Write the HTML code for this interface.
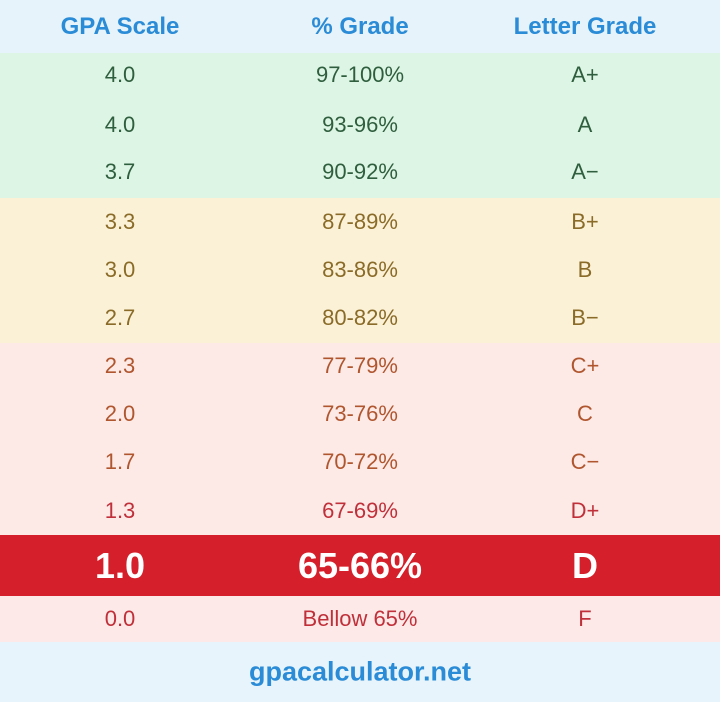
<!DOCTYPE html>
<html><head><meta charset="utf-8"><style>
body{margin:0;width:720px;height:702px;overflow:hidden;font-family:"Liberation Sans",sans-serif;background:#eaf5fc}
.r{position:absolute;left:0;width:720px;}
.c{position:absolute;transform:translate(-50%,-50%);white-space:nowrap}
</style></head><body>
<div class="r" style="top:0;height:53px;background:#e6f3fb"></div>
<div class="r" style="top:53px;height:145px;background:#ddf5e4"></div>
<div class="r" style="top:198px;height:145px;background:#fbf1d6"></div>
<div class="r" style="top:343px;height:192px;background:#fdeae6"></div>
<div class="r" style="top:535px;height:61px;background:#d51f2a"></div>
<div class="r" style="top:596px;height:46px;background:#fdeae8"></div>
<div class="r" style="top:642px;height:60px;background:#e8f4fb"></div>
<div id="t"></div>
<script>
const rows=[
[27,"GPA Scale","% Grade","Letter Grade","#2a8bd6",24,"bold"],
[75,"4.0","97-100%","A+","#2f5e3e",22,""],
[125,"4.0","93-96%","A","#2f5e3e",22,""],
[172,"3.7","90-92%","A−","#2f5e3e",22,""],
[222,"3.3","87-89%","B+","#8a6b28",22,""],
[270,"3.0","83-86%","B","#8a6b28",22,""],
[318,"2.7","80-82%","B−","#8a6b28",22,""],
[366,"2.3","77-79%","C+","#b0562f",22,""],
[414,"2.0","73-76%","C","#b0562f",22,""],
[462,"1.7","70-72%","C−","#b0562f",22,""],
[511,"1.3","67-69%","D+","#c0303a",22,""],
[566,"1.0","65-66%","D","#ffffff",36,"bold"],
[619,"0.0","Bellow 65%","F","#c0303a",22,""]];
let h="";
for(const r of rows){[120,360,585].forEach((x,i)=>{h+=`<div class="c" style="left:${x}px;top:${r[0]}px;color:${r[4]};font-size:${r[5]}px;font-weight:${r[6]||'normal'}">${r[i+1]}</div>`});}
h+=`<div class="c" style="left:360px;top:672px;color:#2a8bd6;font-size:27px;font-weight:bold">gpacalculator.net</div>`;
document.getElementById("t").innerHTML=h;
</script>
</body></html>
